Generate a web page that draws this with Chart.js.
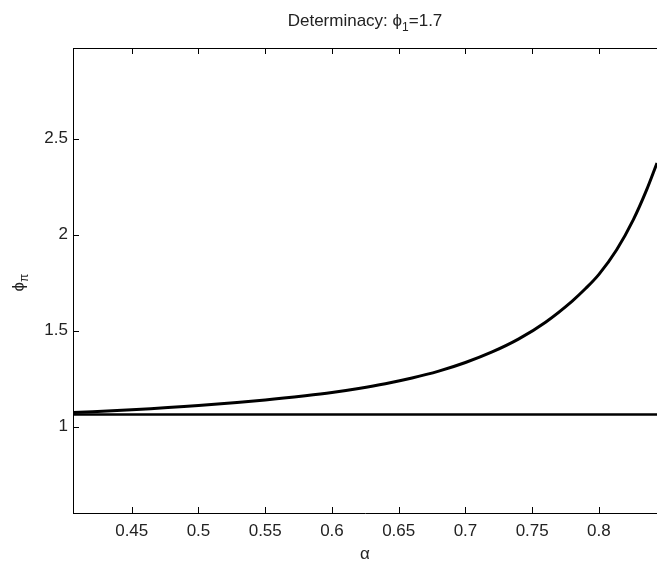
<!DOCTYPE html>
<html>
<head>
<meta charset="utf-8">
<script src="https://cdn.jsdelivr.net/npm/chart.js@4/dist/chart.umd.min.js"></script>
<style>
  html, body { margin: 0; padding: 0; background: #fff; overflow: hidden; }
  #wrap { position: relative; width: 657px; height: 566px; }
</style>
</head>
<body>
<div id="wrap"><canvas id="determinacy-chart"></canvas></div>
<script>
// values
const alphaCurve = [0.406, 0.45, 0.5, 0.55, 0.58, 0.6, 0.62, 0.64, 0.66, 0.68, 0.70,
                    0.72, 0.74, 0.76, 0.78, 0.79, 0.80, 0.8133, 0.8258, 0.8358, 0.8435];
const phiPiCurve = [1.074, 1.089, 1.111, 1.140, 1.162, 1.179, 1.200, 1.2245, 1.254, 1.290, 1.335,
                    1.390, 1.458, 1.545, 1.655, 1.720, 1.794, 1.922, 2.079, 2.235, 2.374];
const alphaFlat = [0.406, 0.8435];
const phiPiFlat = [1.064, 1.064];

const xTickValues = [0.45, 0.5, 0.55, 0.6, 0.65, 0.7, 0.75, 0.8];
const yTickValues = [1, 1.5, 2, 2.5];
const xRange = [0.406, 0.8435];
const yRange = [0.551, 2.973];

const FONT = '"Liberation Sans", Arial, sans-serif';
const TEXT = '#222';

function toPoints(xs, ys) {
  return xs.map((x, i) => ({ x: x, y: ys[i] }));
}

// title, axis labels, top edge and inward tick marks (matlab style)
const matlabFrame = {
  id: 'matlabFrame',
  afterDraw(chart) {
    const ctx = chart.ctx;
    const area = chart.chartArea;
    const xs = chart.scales.x;
    const ys = chart.scales.y;
    const tick = 6;

    ctx.save();
    ctx.strokeStyle = '#000';
    ctx.lineWidth = 1;
    ctx.beginPath();
    ctx.moveTo(area.left, area.top + 0.5);
    ctx.lineTo(area.right, area.top + 0.5);
    xs.ticks.forEach(t => {
      const px = Math.round(xs.getPixelForValue(t.value)) + 0.5;
      ctx.moveTo(px, area.bottom);
      ctx.lineTo(px, area.bottom - tick);
      ctx.moveTo(px, area.top);
      ctx.lineTo(px, area.top + tick);
    });
    ys.ticks.forEach(t => {
      const py = Math.round(ys.getPixelForValue(t.value)) + 0.5;
      ctx.moveTo(area.left, py);
      ctx.lineTo(area.left + tick, py);
    });
    ctx.stroke();

    ctx.fillStyle = TEXT;
    ctx.textBaseline = 'alphabetic';

    // title: Determinacy: ϕ1=1.7 with subscript
    const big = '17px ' + FONT;
    const small = '12px ' + FONT;
    const parts = [
      { s: 'Determinacy: \u03d5', f: big, dy: 0 },
      { s: '1', f: small, dy: 5 },
      { s: '=1.7', f: big, dy: 0 }
    ];
    let total = 0;
    parts.forEach(p => { ctx.font = p.f; p.w = ctx.measureText(p.s).width; total += p.w; });
    let x0 = 365 - total / 2;
    ctx.textAlign = 'left';
    parts.forEach(p => { ctx.font = p.f; ctx.fillText(p.s, x0, 26 + p.dy); x0 += p.w; });

    // x label
    ctx.font = big;
    ctx.textAlign = 'center';
    ctx.fillText('\u03b1', (area.left + area.right) / 2, 559);

    // y label, rotated: ϕ with subscript π
    ctx.translate(24, (area.top + area.bottom) / 2 + 2);
    ctx.rotate(-Math.PI / 2);
    ctx.font = big;
    const w1 = ctx.measureText('\u03d5').width;
    ctx.font = small;
    const w2 = ctx.measureText('\u03c0').width;
    ctx.textAlign = 'left';
    ctx.font = big;
    ctx.fillText('\u03d5', -(w1 + w2) / 2, 0);
    ctx.font = small;
    ctx.fillText('\u03c0', -(w1 + w2) / 2 + w1, 4);
    ctx.restore();
  }
};

const ctx = document.getElementById('determinacy-chart').getContext('2d');
new Chart(ctx, {
  type: 'line',
  data: {
    datasets: [{
      data: toPoints(alphaCurve, phiPiCurve),
      borderColor: '#000',
      borderWidth: 3,
      pointRadius: 0,
      cubicInterpolationMode: 'monotone',
      fill: false
    }, {
      data: toPoints(alphaFlat, phiPiFlat),
      borderColor: '#000',
      borderWidth: 2.5,
      pointRadius: 0,
      fill: false
    }]
  },
  options: {
    responsive: true,
    maintainAspectRatio: false,
    animation: false,
    layout: { padding: { top: 48, left: 0, right: 0, bottom: 0 } },
    plugins: {
      legend: { display: false },
      tooltip: { enabled: false },
      title: { display: false }
    },
    scales: {
      x: {
        type: 'linear',
        min: xRange[0],
        max: xRange[1],
        afterBuildTicks: s => { s.ticks = xTickValues.map(v => ({ value: v })); },
        afterFit: s => { s.height = 53; },
        grid: { display: false, drawTicks: false },
        border: { display: true, color: '#000', width: 1 },
        ticks: {
          autoSkip: false,
          maxRotation: 0,
          padding: 8,
          color: TEXT,
          font: { family: FONT, size: 17 },
          callback: v => String(+Number(v).toFixed(2))
        }
      },
      y: {
        type: 'linear',
        min: yRange[0],
        max: yRange[1],
        afterBuildTicks: s => { s.ticks = yTickValues.map(v => ({ value: v })); },
        afterFit: s => { s.width = 73; },
        grid: { display: false, drawTicks: false },
        border: { display: true, color: '#000', width: 1 },
        ticks: {
          padding: 5,
          color: TEXT,
          font: { family: FONT, size: 17 },
          callback: v => String(+Number(v).toFixed(2))
        }
      }
    }
  },
  plugins: [matlabFrame]
});
</script>
</body>
</html>
